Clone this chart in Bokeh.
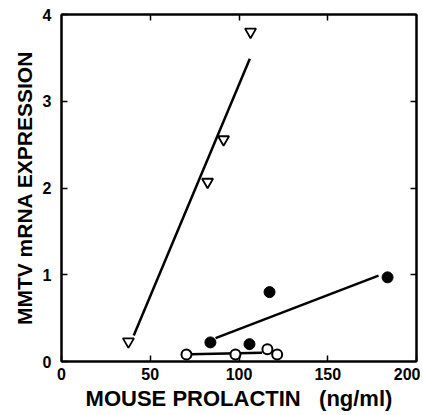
from bokeh.plotting import figure
from bokeh.models import Range1d, LinearAxis, FixedTicker, CustomJSTickFormatter
from bokeh.embed import file_html
from bokeh.resources import INLINE

# Data
tri_x = [37.7, 82.3, 91.3, 106.5]
tri_y = [0.23, 2.07, 2.56, 3.80]
tri_fit_x = [40.7, 106.1]
tri_fit_y = [0.30, 3.49]

filled_x = [83.9, 105.9, 117.2, 183.7]
filled_y = [0.22, 0.20, 0.80, 0.97]
filled_fit_x = [86.8, 178.6]
filled_fit_y = [0.27, 0.99]

open_x = [70.4, 98.0, 116.0, 121.5]
open_y = [0.08, 0.08, 0.14, 0.08]
open_fit_x = [72.7, 113.0]
open_fit_y = [0.085, 0.10]

x_ticks = [0, 50, 100, 150, 200]
y_ticks = [0, 1, 2, 3, 4]
x_inner_ticks = [50, 100, 150]
y_inner_ticks = [1, 2, 3]

FONT = "Liberation Sans"

p = figure(frame_width=355, frame_height=347,
           x_range=Range1d(0, 200), y_range=Range1d(0, 4),
           output_backend="svg", toolbar_location=None,
           min_border_left=61, min_border_top=14, min_border_right=4, min_border_bottom=48,
           x_axis_label="MOUSE PROLACTIN \u00a0\u00a0(ng/ml)",
           y_axis_label="MMTV mRNA EXPRESSION")
p.grid.visible = False
p.outline_line_color = "black"
p.outline_line_width = 2
p.background_fill_color = "white"
p.border_fill_color = "white"

for ax in (p.xaxis[0], p.yaxis[0]):
    ax.axis_line_width = 2
    ax.axis_line_color = "black"
    ax.major_tick_in = 6
    ax.major_tick_out = 0
    ax.major_tick_line_width = 1.5
    ax.minor_tick_line_color = None
    ax.major_label_text_font = FONT
    ax.major_label_text_font_style = "bold"
    ax.major_label_text_font_size = "16px"
    ax.major_label_text_color = "black"
    ax.axis_label_text_font = FONT
    ax.axis_label_text_font_style = "bold"
    ax.axis_label_text_color = "black"

p.xaxis[0].axis_label_text_font_size = "22px"
p.yaxis[0].axis_label_text_font_size = "21px"
p.xaxis[0].ticker = FixedTicker(ticks=x_ticks)
p.yaxis[0].ticker = FixedTicker(ticks=y_ticks)
p.xaxis[0].major_label_standoff = 6
p.yaxis[0].major_label_standoff = 10
p.xaxis[0].axis_label_standoff = 3
p.yaxis[0].axis_label_standoff = 4

top = LinearAxis(ticker=FixedTicker(ticks=x_inner_ticks),
                 formatter=CustomJSTickFormatter(code="return ''"))
right = LinearAxis(ticker=FixedTicker(ticks=y_inner_ticks),
                   formatter=CustomJSTickFormatter(code="return ''"))
for ax in (top, right):
    ax.axis_line_width = 2
    ax.major_tick_in = 6
    ax.major_tick_out = 0
    ax.major_tick_line_width = 1.5
    ax.minor_tick_line_color = None
    ax.major_label_standoff = 0
p.add_layout(top, "above")
p.add_layout(right, "right")

p.line(tri_fit_x, tri_fit_y, line_color="black", line_width=2.5)
p.line(filled_fit_x, filled_fit_y, line_color="black", line_width=2.5)
p.line(open_fit_x, open_fit_y, line_color="black", line_width=2.5)

p.scatter(tri_x, tri_y, marker="inverted_triangle", size=11,
          fill_color="white", line_color="black", line_width=1.8)
p.scatter(filled_x, filled_y, marker="circle", size=11,
          fill_color="black", line_color="black", line_width=1)
p.scatter(open_x, open_y, marker="circle", size=10,
          fill_color="white", line_color="black", line_width=2)

open("out.html", "w").write(file_html(p, INLINE))
